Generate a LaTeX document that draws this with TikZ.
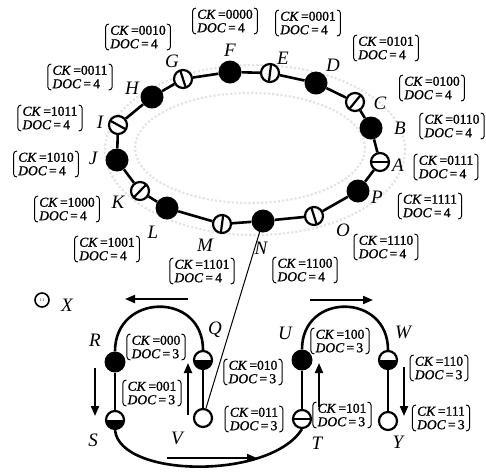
\documentclass[tikz,border=0pt]{standalone}
\usepackage{fontspec}
\setmainfont{Liberation Serif}
\newfontfamily\boxfont[FakeBold=1.2]{Liberation Serif}
\usetikzlibrary{calc,arrows.meta}
\newcommand{\mkslash}[3]{%
  \draw[line width=2.2pt] let \p1=($(#3)-(#2)$), \n1={atan2(\y1,\x1)} in
    ($(#1)+(\n1+90:8.5pt)$) -- ($(#1)+(\n1-90:8.5pt)$);}
\begin{document}
\begin{tikzpicture}[x=1pt,y=-1pt,
  ring/.style={line width=2.6pt},
  blk/.style={circle, fill=black, minimum size=23pt, inner sep=0pt},
  sblk/.style={circle, fill=black, minimum size=21pt, inner sep=0pt},
  wht/.style={circle, draw=black, fill=white, line width=2.2pt, minimum size=18pt, inner sep=0pt},
  half/.style={wht, path picture={\fill[black] (path picture bounding box.west) rectangle (path picture bounding box.south east);}},
  minus/.style={wht, path picture={\draw[line width=2.8pt] (path picture bounding box.west) -- (path picture bounding box.east);}},
  lbl/.style={font=\fontsize{19}{19}\selectfont\itshape, inner sep=0pt},
  box/.style={font=\boxfont\fontsize{13.5}{13.5}\selectfont, align=left, inner xsep=4.5pt, inner ysep=1.5pt},
  brk/.style={line width=1pt},
  flow/.style={line width=2pt, -{Triangle[length=10pt,width=8pt]}},
  bg/.style={draw=gray!22, line width=2.2pt, dotted}
]
\useasboundingbox (0,0) rectangle (486,475);
% faint background rings
\draw[bg] (255,150) ellipse [x radius=150pt, y radius=85pt];
\draw[bg] (250,148) ellipse [x radius=115pt, y radius=55pt];

% ring nodes
\node[blk]   (F) at (230,72) {};
\node[wht]   (E) at (270,73) {};
\node[blk]   (D) at (316,83) {};
\node[wht]   (C) at (355,102) {};
\node[blk]   (B) at (371,128) {};
\node[minus] (A) at (380,162) {};
\node[blk]   (P) at (358,191) {};
\node[wht]   (O) at (314,216) {};
\node[blk]   (N) at (263,221) {};
\node[wht]   (M) at (222,224) {};
\node[blk]   (L) at (167,208) {};
\node[wht]   (K) at (140,191) {};
\node[blk]   (J) at (117,160) {};
\node[wht]   (I) at (118,125) {};
\node[blk]   (H) at (152,97) {};
\node[wht]   (G) at (183,79) {};

\draw[ring] (F) -- (E) -- (D) -- (C) -- (B) -- (A) -- (P) -- (O) -- (N)
  -- (M) -- (L) -- (K) -- (J) -- (I) -- (H) -- (G) -- (F);

\mkslash{E}{F}{D}
\mkslash{C}{D}{B}
\mkslash{O}{P}{N}
\mkslash{M}{N}{L}
\mkslash{K}{L}{J}
\mkslash{I}{J}{H}
\mkslash{G}{H}{F}

% ring labels
\node[lbl] (lF) at (230,50) {F};
\node[lbl] (lE) at (283,58) {E};
\node[lbl] (lD) at (333,65) {D};
\node[lbl] (lC) at (380,103) {C};
\node[lbl] (lB) at (400,128) {B};
\node[lbl] (lA) at (398,165) {A};
\node[lbl] (lP) at (377,197) {P};
\node[lbl] (lO) at (343,230) {O};
\node[lbl] (lN) at (261,248) {N};
\node[lbl] (lM) at (205,245) {M};
\node[lbl] (lL) at (153,232) {L};
\node[lbl] (lK) at (118,202) {K};
\node[lbl] (lJ) at (93,158) {J};
\node[lbl] (lI) at (100,122) {I};
\node[lbl] (lH) at (132,88) {H};
\node[lbl] (lG) at (172,61) {G};

% ring boxes
\node[box] (bF) at (225,21) {\textit{CK}\,=0000\\\textit{DOC}\,=\,4};
\node[box] (bE) at (308,23) {\textit{CK}\,=0001\\\textit{DOC}\,=\,4};
\node[box] (bD) at (386,48) {\textit{CK}\,=0101\\\textit{DOC}\,=\,4};
\node[box] (bC) at (432,88) {\textit{CK}\,=0100\\\textit{DOC}\,=\,4};
\node[box] (bB) at (452,126) {\textit{CK}\,=0110\\\textit{DOC}\,=\,4};
\node[box] (bA) at (446,167) {\textit{CK}\,=0111\\\textit{DOC}\,=\,4};
\node[box] (bP) at (430,206) {\textit{CK}\,=1111\\\textit{DOC}\,=\,4};
\node[box] (bO) at (386,247) {\textit{CK}\,=1110\\\textit{DOC}\,=\,4};
\node[box] (bN) at (305,270) {\textit{CK}\,=1100\\\textit{DOC}\,=\,4};
\node[box] (bM) at (202,271) {\textit{CK}\,=1101\\\textit{DOC}\,=\,4};
\node[box] (bL) at (107,249) {\textit{CK}\,=1001\\\textit{DOC}\,=\,4};
\node[box] (bK) at (67,209) {\textit{CK}\,=1000\\\textit{DOC}\,=\,4};
\node[box] (bJ) at (46,164) {\textit{CK}\,=1010\\\textit{DOC}\,=\,4};
\node[box] (bI) at (50,118) {\textit{CK}\,=1011\\\textit{DOC}\,=\,4};
\node[box] (bH) at (80,77) {\textit{CK}\,=0011\\\textit{DOC}\,=\,4};
\node[box] (bG) at (138,37) {\textit{CK}\,=0010\\\textit{DOC}\,=\,4};

% lower part nodes
\node[circle, draw, line width=1.6pt, minimum size=14pt, inner sep=0pt,
      font=\fontsize{4}{4}\selectfont] (X0) at (42,300) {1\,1};
\node[lbl] (lX) at (67,305) {X};

\node[sblk]  (R) at (115,362) {};
\node[half]  (Q) at (203,360) {};
\node[half]  (S) at (115,420) {};
\node[wht]   (V) at (203,418) {};
\node[sblk]  (U) at (302,360) {};
\node[half]  (W) at (388,360) {};
\node[minus] (T) at (302,419) {};
\node[wht]   (Y) at (388,421) {};

\draw[ring] (R.north) to[out=90,in=90,looseness=1.7] (Q.north);
\draw[ring] (U.north) to[out=90,in=90,looseness=1.7] (W.north);
\draw[ring] (R) -- (S);
\draw[ring] (Q) -- (V);
\draw[ring] (U) -- (T);
\draw[ring] (W) -- (Y);
\draw[ring] (S.south) .. controls (120,478) and (270,480) .. (T.south);
\draw[line width=1pt] (V) -- (N);

\node[lbl] (lR) at (95,340) {R};
\node[lbl] (lQ) at (215,330) {Q};
\node[lbl] (lS) at (93,440) {S};
\node[lbl] (lV) at (177,438) {V};
\node[lbl] (lU) at (285,333) {U};
\node[lbl] (lW) at (403,332) {W};
\node[lbl] (lT) at (317,443) {T};
\node[lbl] (lY) at (398,442) {Y};

\node[box] (b000) at (156,347) {\textit{CK}\,=000\\\textit{DOC}\,=\,3};
\node[box] (b001) at (152,393) {\textit{CK}\,=001\\\textit{DOC}\,=\,3};
\node[box] (b010) at (253,372) {\textit{CK}\,=010\\\textit{DOC}\,=\,3};
\node[box] (b011) at (254,419) {\textit{CK}\,=011\\\textit{DOC}\,=\,3};
\node[box] (b100) at (340,341) {\textit{CK}\,=100\\\textit{DOC}\,=\,3};
\node[box] (b101) at (342,415) {\textit{CK}\,=101\\\textit{DOC}\,=\,3};
\node[box] (b110) at (439,368) {\textit{CK}\,=110\\\textit{DOC}\,=\,3};
\node[box] (b111) at (441,418) {\textit{CK}\,=111\\\textit{DOC}\,=\,3};

\foreach \b in {bF,bE,bD,bC,bB,bA,bP,bO,bN,bM,bL,bK,bJ,bI,bH,bG,b000,b001,b010,b011,b100,b101,b110,b111}{
  \draw[brk] ([xshift=3.5pt]\b.north west) to[out=180,in=90] ([yshift=-3pt]\b.north west)
    -- ([yshift=3pt]\b.south west) to[out=-90,in=180] ([xshift=3.5pt]\b.south west);
  \draw[brk] ([xshift=-3.5pt]\b.north east) to[out=0,in=90] ([yshift=-3pt]\b.north east)
    -- ([yshift=3pt]\b.south east) to[out=-90,in=0] ([xshift=-3.5pt]\b.south east);
}

% flow arrows
\coordinate (a1s) at (188,299); \coordinate (a1e) at (125,299);
\coordinate (a2s) at (310,300); \coordinate (a2e) at (373,300);
\coordinate (a3s) at (95,368);  \coordinate (a3e) at (95,416);
\coordinate (a4s) at (188,415); \coordinate (a4e) at (188,363);
\coordinate (a5s) at (319,407); \coordinate (a5e) at (319,363);
\coordinate (a6s) at (404,367); \coordinate (a6e) at (404,416);
\coordinate (a7s) at (167,458); \coordinate (a7e) at (257,458);
\draw[flow] (a1s) -- (a1e);
\draw[flow] (a2s) -- (a2e);
\draw[flow] (a3s) -- (a3e);
\draw[flow] (a4s) -- (a4e);
\draw[flow] (a5s) -- (a5e);
\draw[flow] (a6s) -- (a6e);
\draw[flow] (a7s) -- (a7e);
\end{tikzpicture}
\end{document}
